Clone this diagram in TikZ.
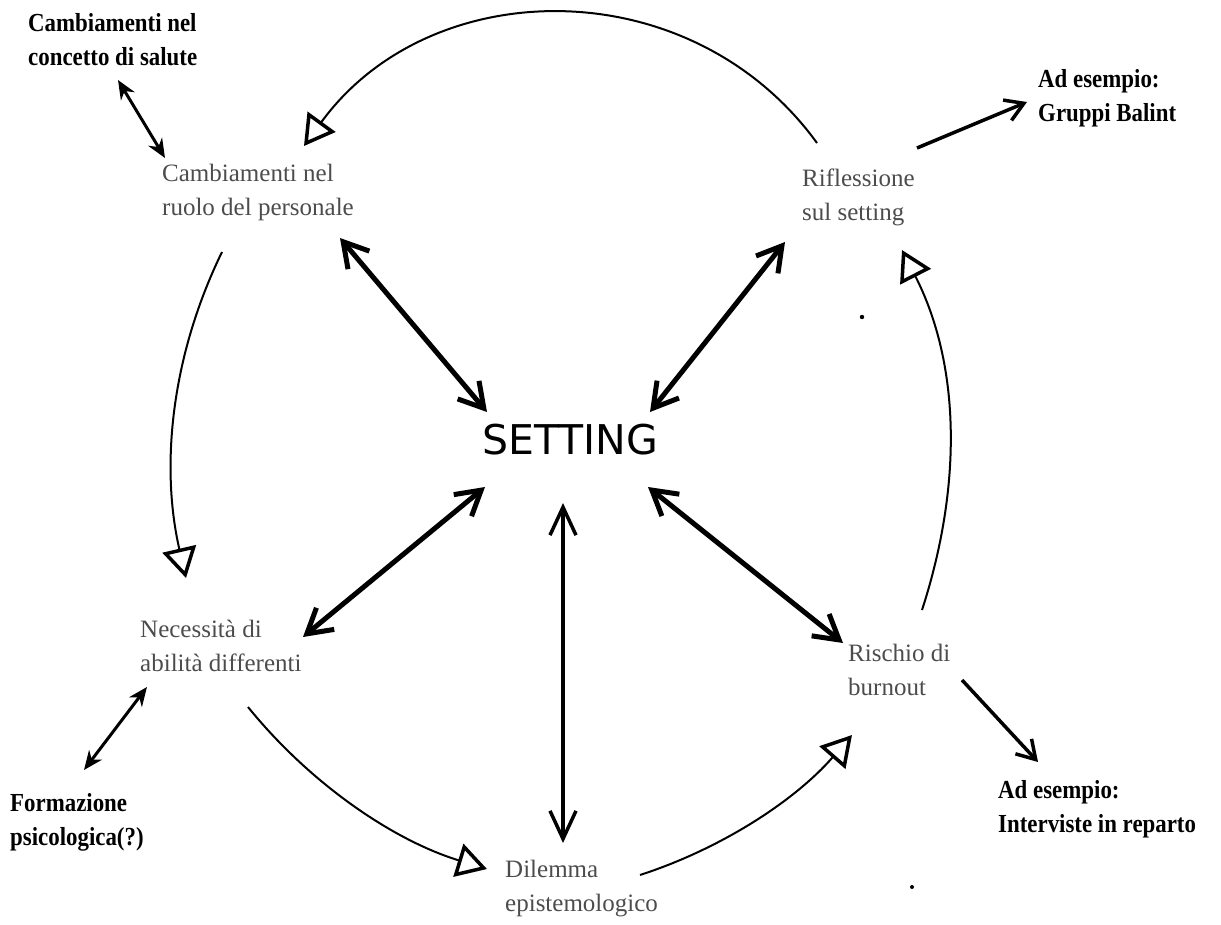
\documentclass[tikz,border=0pt]{standalone}
\usepackage{fontspec}
\setmainfont{Liberation Serif}
\newfontfamily\notefont{Liberation Serif}[FakeStretch=0.88]
\newfontfamily\centerfont{DejaVu Sans}
\usetikzlibrary{arrows.meta}

\begin{document}
\begin{tikzpicture}[x=1pt,y=1pt,
  topic/.style={font=\fontsize{25}{34}\selectfont, text=black!70, align=left, inner sep=0pt, anchor=west},
  note/.style={font=\notefont\bfseries\fontsize{26}{34}\selectfont, align=left, inner sep=0pt, anchor=west},
  core/.style={font=\centerfont\fontsize{41}{41}\selectfont, inner sep=0pt},
  link/.style={line width=5pt, {Straight Barb[length=24pt,width=28pt]}-{Straight Barb[length=24pt,width=28pt]}},
  vlink/.style={line width=3.5pt, {Straight Barb[length=28pt,width=26pt]}-{Straight Barb[length=28pt,width=26pt]}},
  aside/.style={line width=3pt, {Stealth[length=19pt,width=16pt]}-{Stealth[length=19pt,width=16pt]}},
  example/.style={line width=3.5pt, -{Straight Barb[length=18pt,width=22pt]}},
  cycle/.style={line width=2pt, -{Triangle[open,length=30pt,width=34pt,line width=3.5pt]}}
]
\useasboundingbox (0,0) rectangle (1221,-924);

% central concept
\node[core] (setting) at (570,-440) {SETTING};

% the five aspects around it
\node[topic] (ruolo) at (162,-192.5) {Cambiamenti nel\\ruolo del personale};
\node[topic] (rifl) at (802,-197) {Riflessione\\sul setting};
\node[topic] (abil) at (140,-646) {Necessità di\\abilità differenti};
\node[topic] (burn) at (848,-670) {Rischio di\\burnout};
\node[topic] (dil) at (505,-889) {Dilemma\\epistemologico};

% side notes
\node[note] (salute) at (28,-40) {Cambiamenti nel\\concetto di salute};
\node[note] (balint) at (1038,-98) {Ad esempio:\\Gruppi Balint};
\node[note] (form) at (10,-822) {Formazione\\psicologica(?)};
\node[note] (interv) at (998,-809) {Ad esempio:\\Interviste in reparto};

% end points of the links
\coordinate (ruolo-s) at (340,-238);   \coordinate (set-ruolo) at (487,-412);
\coordinate (rifl-s) at (785,-242);    \coordinate (set-rifl) at (650,-412);
\coordinate (abil-s) at (303,-637);    \coordinate (set-abil) at (485,-487);
\coordinate (dil-s) at (563,-843);     \coordinate (set-dil) at (563,-503);
\coordinate (burn-s) at (843,-643);    \coordinate (set-burn) at (648,-487);

\coordinate (salute-a) at (118,-80);   \coordinate (ruolo-a) at (165,-158);
\coordinate (form-a) at (84,-770);     \coordinate (abil-a) at (147,-687);
\coordinate (rifl-e) at (917,-148);    \coordinate (balint-e) at (1027,-102);
\coordinate (burn-e) at (962,-680);    \coordinate (interv-e) at (1038,-762);

% cycle end points
\coordinate (c-rifl-out) at (817,-143); \coordinate (c-ruolo-in) at (304,-146);
\coordinate (c-ruolo-out) at (222,-252); \coordinate (c-abil-in) at (186,-578);
\coordinate (c-abil-out) at (248,-707); \coordinate (c-dil-in) at (487,-869);
\coordinate (c-dil-out) at (640,-875); \coordinate (c-burn-in) at (852,-735);
\coordinate (c-burn-out) at (922,-610); \coordinate (c-rifl-in) at (902,-250);

% links to the centre
\draw[link] (ruolo-s) -- (set-ruolo);
\draw[link] (rifl-s) -- (set-rifl);
\draw[link] (abil-s) -- (set-abil);
\draw[vlink] (dil-s) -- (set-dil);
\draw[link] (burn-s) -- (set-burn);

% side links
\draw[aside] (salute-a) -- (ruolo-a);
\draw[aside] (form-a) -- (abil-a);
\draw[example] (rifl-e) -- (balint-e);
\draw[example] (burn-e) -- (interv-e);

% the cycle
\draw[cycle] (c-rifl-out) to[out=126,in=54,looseness=1.07] (c-ruolo-in);
\draw[cycle] (c-ruolo-out) to[out=244,in=103,looseness=0.9] (c-abil-in);
\draw[cycle] (c-abil-out) to[out=-51,in=163,looseness=0.87] (c-dil-in);
\draw[cycle] (c-dil-out) to[out=18,in=229,looseness=0.87] (c-burn-in);
\draw[cycle] (c-burn-out) to[out=72,in=-63,looseness=0.92] (c-rifl-in);

% stray dots
\fill (862,-317) circle (2.2);
\fill (912,-887) circle (2);
\end{tikzpicture}
\end{document}
